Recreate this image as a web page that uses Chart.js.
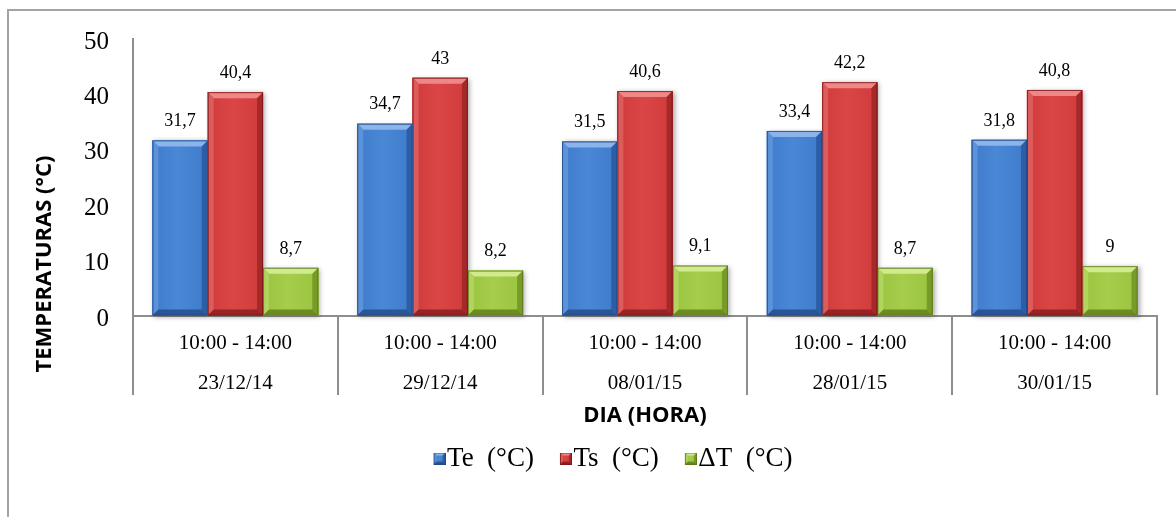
<!DOCTYPE html>
<html>
<head>
<meta charset="utf-8">
<title>Temperaturas por dia</title>
<script src="https://cdn.jsdelivr.net/npm/chart.js@4.4.1/dist/chart.umd.min.js"></script>
<style>
  html, body { margin: 0; padding: 0; background: #ffffff; }
  canvas { display: block; }
</style>
</head>
<body>
<canvas id="grafico" width="1176" height="517"></canvas>
<script>
// Horário e dia de cada medição
const horas = ['10:00 - 14:00', '10:00 - 14:00', '10:00 - 14:00', '10:00 - 14:00', '10:00 - 14:00'];
const dias = ['23/12/14', '29/12/14', '08/01/15', '28/01/15', '30/01/15'];

// Temperatura de entrada, de saída e diferença (°C)
const te = [31.7, 34.7, 31.5, 33.4, 31.8];
const ts = [40.4, 43, 40.6, 42.2, 40.8];
const deltaT = [8.7, 8.2, 9.1, 8.7, 9];

const nomesSeries = ['Te  (°C)', 'Ts  (°C)', 'ΔT  (°C)'];
const ticksY = [0, 10, 20, 30, 40, 50];

const SERIF = '"Liberation Serif", "Times New Roman", serif';
const SANS = '"Open Sans", "Liberation Sans", sans-serif';
const CINZA = '#8e8e8e';

// Tons para o efeito de chanfro de cada série
const tons = [
  { body: '#3e7bcb', mid: '#4a88d6', top: '#8ab4ea', left: '#5b92da', right: '#2c5ea6', bottom: '#2a5596', edge: 'rgba(30,70,130,0.8)' },
  { body: '#d03a3a', mid: '#da4646', top: '#ee8888', left: '#dc5b5b', right: '#a52929', bottom: '#962424', edge: 'rgba(120,20,20,0.8)' },
  { body: '#9ac43f', mid: '#a6cd4c', top: '#d2ea8e', left: '#b0d45e', right: '#779a28', bottom: '#6c8c22', edge: 'rgba(90,115,25,0.8)' }
];

function poly(ctx, pts, fill) {
  ctx.beginPath();
  ctx.moveTo(pts[0][0], pts[0][1]);
  for (let i = 1; i < pts.length; i++) ctx.lineTo(pts[i][0], pts[i][1]);
  ctx.closePath();
  ctx.fillStyle = fill;
  ctx.fill();
}

function caixaChanfrada(ctx, l, t, r, b, tom, s) {
  s = Math.min(s, (r - l) / 2, (b - t) / 2);
  const g = ctx.createLinearGradient(l, 0, r, 0);
  g.addColorStop(0, tom.body);
  g.addColorStop(0.45, tom.mid);
  g.addColorStop(1, tom.body);
  ctx.fillStyle = g;
  ctx.fillRect(l, t, r - l, b - t);
  poly(ctx, [[l, t], [r, t], [r - s, t + s], [l + s, t + s]], tom.top);
  poly(ctx, [[l, t], [l + s, t + s], [l + s, b - s], [l, b]], tom.left);
  poly(ctx, [[r, t], [r, b], [r - s, b - s], [r - s, t + s]], tom.right);
  poly(ctx, [[l, b], [l + s, b - s], [r - s, b - s], [r, b]], tom.bottom);
  ctx.strokeStyle = tom.edge;
  ctx.lineWidth = 1;
  ctx.strokeRect(l + 0.5, t + 0.5, r - l - 1, b - t - 1);
}

// Ícones da legenda: quadradinho chanfrado encostado à direita da imagem
const iconesLegenda = tons.map(tom => {
  const c = document.createElement('canvas');
  c.width = 24; c.height = 12;
  caixaChanfrada(c.getContext('2d'), 12, 0, 24, 12, tom, 3);
  return c;
});

function retanguloBarra(bar) {
  const p = bar.getProps(['x', 'y', 'base', 'width'], true);
  const l = p.x - p.width / 2, r = p.x + p.width / 2;
  return { l, r, t: Math.min(p.y, p.base), b: Math.max(p.y, p.base) };
}

const pluginMoldura = {
  id: 'moldura',
  beforeDraw(chart) {
    const ctx = chart.ctx;
    ctx.save();
    ctx.strokeStyle = '#a3a3a3';
    ctx.lineWidth = 2;
    ctx.beginPath();
    ctx.moveTo(8, chart.height);
    ctx.lineTo(8, 10);
    ctx.lineTo(chart.width, 10);
    ctx.stroke();
    ctx.restore();
  },
  afterDraw(chart) {
    // Título do eixo vertical
    const ctx = chart.ctx;
    ctx.save();
    ctx.translate(45, 264);
    ctx.rotate(-Math.PI / 2);
    ctx.font = 'bold 22px ' + SANS;
    ctx.fillStyle = '#000';
    ctx.textAlign = 'center';
    ctx.textBaseline = 'middle';
    ctx.fillText('TEMPERATURAS (°C)', 0, 0);
    ctx.restore();
  }
};

const pluginBarras = {
  id: 'barrasChanfradas',
  beforeDatasetsDraw(chart) {
    const ctx = chart.ctx;
    ctx.save();
    chart.data.datasets.forEach((ds, i) => {
      chart.getDatasetMeta(i).data.forEach(bar => {
        const q = retanguloBarra(bar);
        ctx.shadowColor = 'rgba(0,0,0,0.35)';
        ctx.shadowBlur = 5;
        ctx.shadowOffsetX = 2;
        ctx.shadowOffsetY = 1;
        ctx.fillStyle = tons[i].body;
        ctx.fillRect(q.l, q.t, q.r - q.l, q.b - q.t);
      });
    });
    ctx.restore();
  },
  afterDatasetDraw(chart, args) {
    const ctx = chart.ctx;
    const tom = tons[args.index];
    ctx.save();
    args.meta.data.forEach(bar => {
      const q = retanguloBarra(bar);
      caixaChanfrada(ctx, q.l, q.t, q.r, q.b, tom, 6);
    });
    ctx.restore();
  },
  afterDatasetsDraw(chart) {
    // Rótulos com o valor de cada barra
    const ctx = chart.ctx;
    ctx.save();
    ctx.font = '18px ' + SERIF;
    ctx.fillStyle = '#000';
    ctx.textAlign = 'center';
    ctx.textBaseline = 'middle';
    chart.data.datasets.forEach((ds, i) => {
      chart.getDatasetMeta(i).data.forEach((bar, j) => {
        const q = retanguloBarra(bar);
        const txt = String(ds.data[j]).replace('.', ',');
        ctx.fillText(txt, (q.l + q.r) / 2, q.t - 19);
      });
    });
    ctx.restore();
  }
};

const serieValores = [te, ts, deltaT];

new Chart(document.getElementById('grafico'), {
  type: 'bar',
  data: {
    labels: horas.map((h, i) => [h, dias[i]]),
    datasets: serieValores.map((vals, i) => ({
      label: nomesSeries[i],
      data: vals,
      backgroundColor: tons[i].body,
      borderWidth: 0,
      categoryPercentage: 0.81,
      barPercentage: 1
    }))
  },
  options: {
    responsive: false,
    animation: false,
    devicePixelRatio: 1,
    layout: { padding: { left: 69, right: 19, top: 38, bottom: 35 } },
    plugins: {
      tooltip: { enabled: false },
      legend: {
        position: 'bottom',
        labels: {
          usePointStyle: true,
          pointStyleWidth: 0.01,
          padding: 26,
          color: '#000',
          font: { family: SERIF, size: 27 },
          generateLabels: chart => chart.data.datasets.map((ds, i) => ({
            text: ds.label,
            fillStyle: tons[i].body,
            strokeStyle: tons[i].body,
            lineWidth: 0,
            pointStyle: iconesLegenda[i],
            hidden: !chart.isDatasetVisible(i),
            datasetIndex: i,
            fontColor: '#000'
          }))
        }
      }
    },
    scales: {
      x: {
        offset: true,
        grid: { display: true, offset: true, drawOnChartArea: false, drawTicks: true, tickLength: 79, color: CINZA, lineWidth: 2 },
        border: { display: true, color: CINZA, width: 2 },
        ticks: {
          color: '#000',
          font: { family: SERIF, size: 21, lineHeight: '40px' },
          padding: -72,
          maxRotation: 0,
          autoSkip: false
        },
        title: {
          display: true,
          text: 'DIA (HORA)',
          color: '#000',
          font: { family: SANS, size: 22, weight: 'bold', lineHeight: 1.2 },
          padding: { top: 0, bottom: -10 }
        },
        afterFit: s => { s.height = 103; }
      },
      y: {
        min: ticksY[0],
        max: ticksY[ticksY.length - 1],
        ticks: {
          stepSize: ticksY[1] - ticksY[0],
          color: '#000',
          font: { family: SERIF, size: 25 },
          padding: 24,
          labelOffset: 3
        },
        grid: { display: true, drawOnChartArea: false, drawTicks: false },
        border: { display: true, color: CINZA, width: 2 },
        afterFit: s => { s.width = 64; }
      }
    }
  },
  plugins: [pluginMoldura, pluginBarras]
});
</script>
</body>
</html>
